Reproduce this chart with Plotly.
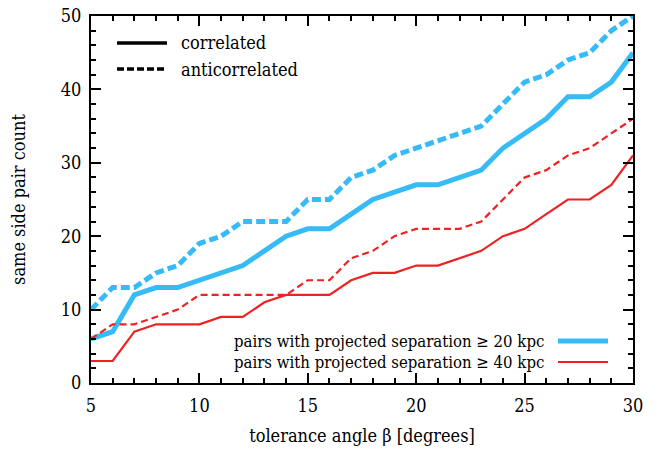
import plotly.graph_objects as go

angle = list(range(5, 31))
corr_20 = [6, 7, 12, 13, 13, 14, 15, 16, 18, 20, 21, 21, 23, 25, 26, 27, 27, 28, 29, 32, 34, 36, 39, 39, 41, 45]
anti_20 = [10, 13, 13, 15, 16, 19, 20, 22, 22, 22, 25, 25, 28, 29, 31, 32, 33, 34, 35, 38, 41, 42, 44, 45, 48, 50]
corr_40 = [3, 3, 7, 8, 8, 8, 9, 9, 11, 12, 12, 12, 14, 15, 15, 16, 16, 17, 18, 20, 21, 23, 25, 25, 27, 31]
anti_40 = [6, 8, 8, 9, 10, 12, 12, 12, 12, 12, 14, 14, 17, 18, 20, 21, 21, 21, 22, 25, 28, 29, 31, 32, 34, 36]

BLUE = "#36BBF7"
RED = "#EE2222"
FONT = "DejaVu Serif Condensed, DejaVu Serif"
FS = 18

fig = go.Figure()
fig.add_trace(go.Scatter(x=angle, y=anti_20, mode="lines",
                         line=dict(color=BLUE, width=5, dash="9px,4px"), showlegend=False))
fig.add_trace(go.Scatter(x=angle, y=corr_20, mode="lines",
                         line=dict(color=BLUE, width=5), showlegend=False))
fig.add_trace(go.Scatter(x=angle, y=anti_40, mode="lines",
                         line=dict(color=RED, width=2.2, dash="7px,4px"), showlegend=False))
fig.add_trace(go.Scatter(x=angle, y=corr_40, mode="lines",
                         line=dict(color=RED, width=2.2), showlegend=False))

W, H = 658, 449
L, T = 83, 8
pw, ph = 542, 367
R = W - L - pw
B = H - T - ph
OFF = 8  # page offset

def px(x):
    return (x - OFF - L) / pw

def py(y):
    return (T + OFF + ph - y) / ph

shapes = []
annotations = []
for yy, dash, label in [(43, "solid", "correlated"), (69, "7px,3px", "anticorrelated")]:
    shapes.append(dict(type="line", xref="paper", yref="paper", x0=px(117), x1=px(167), y0=py(yy), y1=py(yy),
                       line=dict(color="black", width=3.5, dash=dash)))
    annotations.append(dict(xref="paper", yref="paper", x=px(179), y=py(yy), text=label, showarrow=False,
                            xanchor="left", yanchor="middle", font=dict(family=FONT, size=FS, color="black")))
for yy, col, w, label in [(341, BLUE, 5, "pairs with projected separation ≥ 20 kpc"),
                          (362, RED, 2.2, "pairs with projected separation ≥ 40 kpc")]:
    shapes.append(dict(type="line", xref="paper", yref="paper", x0=px(558), x1=px(608), y0=py(yy), y1=py(yy),
                       line=dict(color=col, width=w)))
    annotations.append(dict(xref="paper", yref="paper", x=px(546), y=py(yy), text=label, showarrow=False,
                            xanchor="right", yanchor="middle", font=dict(family=FONT, size=16.6, color="black")))

axis_common = dict(showline=True, linecolor="black", linewidth=2, mirror="ticks", ticks="inside",
                   ticklen=10, tickwidth=1.5, tickcolor="black", showgrid=False, zeroline=False,
                   automargin=False, ticklabeloverflow="allow",
                   tickfont=dict(family=FONT, size=FS, color="black"))

fig.update_layout(
    width=W, height=H,
    margin=dict(l=L, r=R, t=T, b=B),
    font=dict(family=FONT, size=FS, color="black"),
    plot_bgcolor="white", paper_bgcolor="white",
    shapes=shapes, annotations=annotations,
    xaxis=dict(range=[5, 30], dtick=5, tick0=5, ticklabelstandoff=5,
               minor=dict(dtick=1, ticks="inside", ticklen=5, tickwidth=1.5, tickcolor="black"),
               title=dict(text="tolerance angle β [degrees]", font=dict(family=FONT, size=FS, color="black"),
                          standoff=15),
               **axis_common),
    yaxis=dict(range=[0, 50], dtick=10, ticklabelstandoff=4,
               minor=dict(dtick=2, ticks="inside", ticklen=5, tickwidth=1.5, tickcolor="black"),
               title=dict(text="same side pair count", font=dict(family=FONT, size=FS, color="black"),
                          standoff=32),
               **axis_common),
)

fig.write_html("out.html")
